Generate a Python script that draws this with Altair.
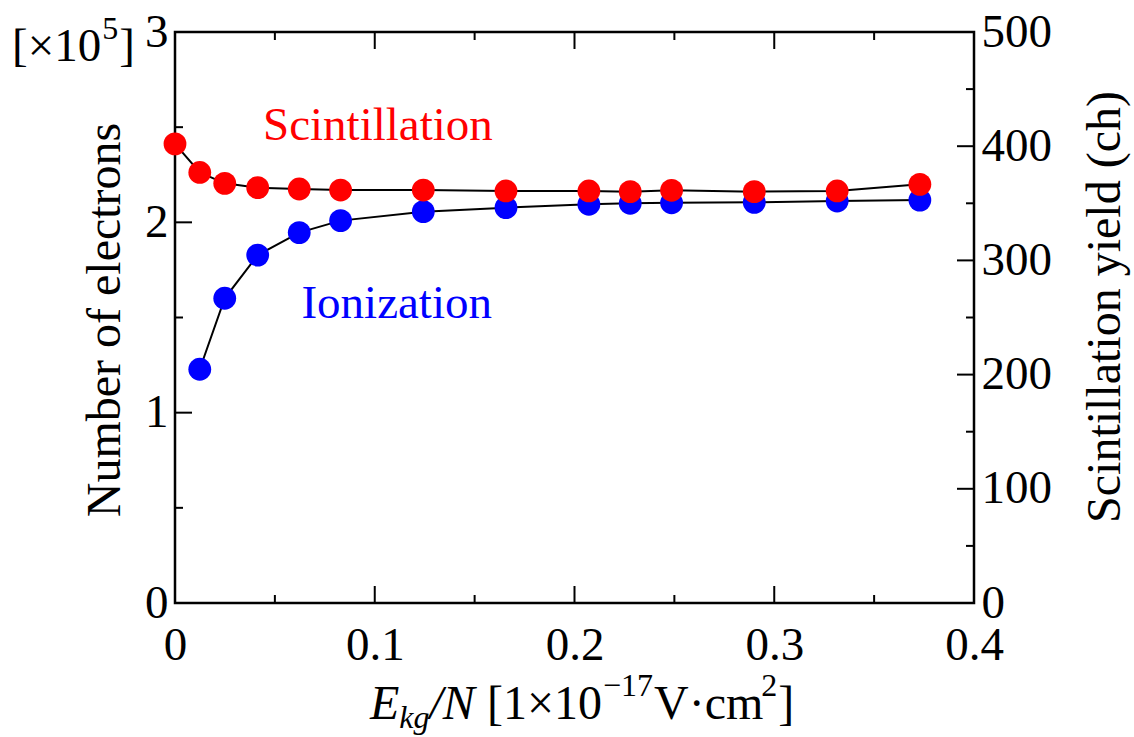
import altair as alt
import pandas as pd

# Reduced field E_kg/N in units of 1e-17 V cm^2
e_over_n = [0.0, 0.0124, 0.0249, 0.0414, 0.0622, 0.0829, 0.1243, 0.1657,
            0.2072, 0.2279, 0.2486, 0.2900, 0.3315, 0.3729]
# Number of ionization electrons (x1e5); no charge is collected at zero field
ion_field = e_over_n[1:]
ionization = [1.228, 1.601, 1.828, 1.946, 2.009, 2.056, 2.077, 2.095,
              2.100, 2.103, 2.105, 2.112, 2.117]
# Scintillation yield (ch)
scintillation = [402.0, 377.0, 367.5, 363.7, 362.5, 361.6, 361.6, 360.8,
                 360.8, 360.2, 361.4, 360.2, 360.8, 366.6]

# Axis ticks and labels
x_labels = [0, 0.1, 0.2, 0.3, 0.4]
x_major = [0.1, 0.2, 0.3]
x_minor = [0.05, 0.15, 0.25, 0.35]
left_labels = [0, 1, 2, 3]
left_major = [1, 2]
left_minor = [0.5, 1.5, 2.5]
right_labels = [0, 100, 200, 300, 400, 500]
right_major = [100, 200, 300, 400]
right_minor = [50, 150, 250, 350, 450]

W, H = 799, 571
FONT = "Liberation Serif, Times New Roman, serif"
MAJOR, MINOR = 17, 8
DOT = 520

ion_df = pd.DataFrame({"x": ion_field, "y": ionization})
sci_df = pd.DataFrame({"x": e_over_n, "y": scintillation})

xs = alt.Scale(domain=[0, 0.4], nice=False, zero=False)
yl = alt.Scale(domain=[0, 3], nice=False)
yr = alt.Scale(domain=[0, 500], nice=False)

label_style = dict(ticks=False, tickSize=0, domain=False, grid=False,
                   labelFontSize=47, labelFont=FONT, labelFontStyle="normal",
                   labelFontWeight="normal", labelColor="black",
                   labelFlush=False, labelOverlap=False, title=None)
x_axis = alt.Axis(orient="bottom", values=x_labels, labelPadding=19,
                  labelExpr="datum.value == 0 ? '0' : format(datum.value, '.1f')",
                  **label_style)
yl_axis = alt.Axis(orient="left", values=left_labels, labelPadding=7,
                   format="d", **label_style)
yr_axis = alt.Axis(orient="right", values=right_labels, labelPadding=7,
                   format="d", **label_style)


def X(field):
    return alt.X(f"{field}:Q", scale=xs, axis=x_axis)


def YL(field):
    return alt.Y(f"{field}:Q", scale=yl, axis=yl_axis)


def YR(field):
    return alt.Y(f"{field}:Q", scale=yr, axis=yr_axis)


def text_mark(size, color="black", italic=False, **kw):
    return dict(font=FONT, fontSize=size, color=color,
                fontStyle="italic" if italic else "normal",
                fontWeight="normal", **kw)


def xticks(vals, length):
    """Inward ticks on the bottom and top frame edges."""
    d = pd.DataFrame({"v": vals})
    bottom = alt.Chart(d).mark_rule(color="black", strokeWidth=2).encode(
        x=X("v"), y=alt.value(H), y2=alt.value(H - length))
    top = alt.Chart(d).mark_rule(color="black", strokeWidth=2).encode(
        x=X("v"), y=alt.value(0), y2=alt.value(length))
    return [bottom, top]


def yticks(vals, length, enc, side):
    d = pd.DataFrame({"v": vals})
    x0 = 0 if side == "left" else W
    x1 = length if side == "left" else W - length
    return alt.Chart(d).mark_rule(color="black", strokeWidth=2).encode(
        y=enc("v"), x=alt.value(x0), x2=alt.value(x1))


# Widths of Times-metric glyphs (fraction of em), used to chain rich-text pieces
ADV = {"[": .333, "]": .333, "×": .564, "1": .5, "0": .5, "5": .5, " ": .25,
       "V": .722, "·": .25, "c": .444, "m": .778, "−": .564, "7": .5, "2": .5,
       "E": .611, "k": .444, "g": .5, "/": .278, "N": .667}


def rich_text(pieces, x_start, baseline):
    """pieces: (text, italic, size, baseline shift, extra gap before)"""
    layers = []
    x = x_start
    for text, italic, size, shift, gap in pieces:
        stripped = text.lstrip(" ")
        x += (len(text) - len(stripped)) * ADV[" "] * size + gap
        layers.append(alt.Chart(pd.DataFrame({"t": [stripped]})).mark_text(
            align="left", baseline="alphabetic", **text_mark(size, italic=italic)
        ).encode(text="t:N", x=alt.value(x), y=alt.value(baseline + shift)))
        x += sum(ADV[c] for c in stripped) * size
    return layers


x_title = rich_text([
    ("E", True, 48, 0, 0),
    ("kg", True, 32, 9, 0),
    ("/N", True, 48, 0, 0),
    (" [1×10", False, 48, 0, 0),
    ("−17", False, 32, -23, 1),
    ("V·cm", False, 48, 0, 1),
    ("2", False, 32, -23, 2),
    ("]", False, 48, 0, 1),
], 195, 687)

scale_note = rich_text([
    ("[×10", False, 47, 0, 0),
    ("5", False, 32, -22, 1),
    ("]", False, 47, 0, 1),
], -163, 29)

left_title = alt.Chart(pd.DataFrame({"t": ["Number of electrons"]})).mark_text(
    angle=270, align="center", baseline="alphabetic", **text_mark(48)
).encode(text="t:N", x=alt.value(-55), y=alt.value(288))
right_title = alt.Chart(pd.DataFrame({"t": ["Scintillation yield (ch)"]})).mark_text(
    angle=270, align="center", baseline="alphabetic", **text_mark(48)
).encode(text="t:N", x=alt.value(945), y=alt.value(275))

ion_line = alt.Chart(ion_df).mark_line(color="black", strokeWidth=2).encode(
    x=X("x"), y=YL("y"))
ion_pts = alt.Chart(ion_df).mark_circle(size=DOT, opacity=1, color="#0000ff").encode(
    x=X("x"), y=YL("y"))
ion_label = alt.Chart(pd.DataFrame({"x": [0.111], "y": [1.497], "t": ["Ionization"]})).mark_text(
    align="center", baseline="alphabetic", **text_mark(47, "#0000ff")
).encode(x=X("x"), y=YL("y"), text="t:N")

sci_line = alt.Chart(sci_df).mark_line(color="black", strokeWidth=2).encode(
    x=X("x"), y=YR("y"))
sci_pts = alt.Chart(sci_df).mark_circle(size=DOT, opacity=1, color="#ff0000").encode(
    x=X("x"), y=YR("y"))
sci_label = alt.Chart(pd.DataFrame({"x": [0.1016], "y": [405], "t": ["Scintillation"]})).mark_text(
    align="center", baseline="alphabetic", **text_mark(47, "#ff0000")
).encode(x=X("x"), y=YR("y"), text="t:N")

left_layer = alt.layer(
    ion_line, ion_pts, ion_label,
    *xticks(x_major, MAJOR), *xticks(x_minor, MINOR),
    yticks(left_major, MAJOR, YL, "left"), yticks(left_minor, MINOR, YL, "left"),
    left_title, right_title, *x_title, *scale_note,
)
right_layer = alt.layer(
    sci_line, sci_pts, sci_label,
    yticks(right_major, MAJOR, YR, "right"), yticks(right_minor, MINOR, YR, "right"),
)

chart = alt.layer(left_layer, right_layer).resolve_scale(y="independent").properties(
    width=W, height=H,
    autosize=alt.AutoSizeParams(type="none"),
    padding={"left": 175, "top": 32, "right": 1134 - 175 - W, "bottom": 737 - 32 - H},
    background="white",
).configure(font=FONT).configure_view(stroke="black", strokeWidth=2.5)

chart.save("out.html", embed_options={"renderer": "svg", "actions": False})
